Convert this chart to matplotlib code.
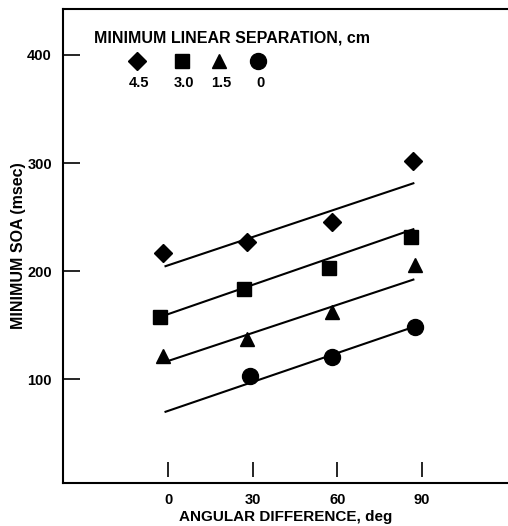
import matplotlib.pyplot as plt
from matplotlib.transforms import blended_transform_factory

plt.rcParams['font.family'] = ['Liberation Sans', 'DejaVu Sans']
plt.rcParams['font.weight'] = 'bold'

# separation groups (cm) and their markers
separations = ['4.5', '3.0', '1.5', '0']
markers = ['D', 's', '^', 'o']
marker_sizes = [9, 9.5, 10, 11.5]

angle_x = [[-2, 28, 58, 87],
           [-3, 27, 57, 86],
           [-2, 28, 58, 87.5],
           [29, 58, 87.5]]
soa_y = [[216.6, 226.8, 245.3, 301.6],
         [157.5, 183.4, 202.8, 231.4],
         [121.5, 137.2, 162.1, 205.6],
         [103, 120.6, 148.3]]

# fitted lines (start/end)
fit_x = [-1, 87]
fit_y = [[204.6, 281.3],
         [159.4, 238.8],
         [116.1, 192.2],
         [69.9, 148.3]]

x_ticks = [0, 30, 60, 90]
y_ticks = [100, 200, 300, 400]

fig = plt.figure(figsize=(5.08, 5.26), dpi=100)
ax = fig.add_axes([63 / 508, (526 - 483) / 526, 445 / 508, (483 - 8.5) / 526])

for xs, ys, fy, m, ms in zip(angle_x, soa_y, fit_y, markers, marker_sizes):
    ax.plot(fit_x, fy, color='black', lw=1.5)
    ax.plot(xs, ys, linestyle='none', marker=m, ms=ms, color='black')

ax.set_xlim(-37.4, 120.6)
ax.set_ylim(4, 443)

ax.spines['right'].set_visible(False)
for s in ['left', 'bottom', 'top']:
    ax.spines[s].set_linewidth(1.5)

ax.set_yticks(y_ticks)
ax.tick_params(axis='y', direction='in', length=12, width=1.2, pad=8, labelsize=10.5)
ax.set_xticks(x_ticks)
ax.tick_params(axis='x', length=0, pad=7, labelsize=10.5)

# x tick marks sit a bit above the bottom spine
trans = blended_transform_factory(ax.transData, ax.transAxes)
ax.vlines(x_ticks, 0.013, 0.044, transform=trans, color='black', lw=1.2)

ax.set_xlabel('ANGULAR DIFFERENCE, deg', fontsize=11, fontweight='bold', labelpad=2)
ax.set_ylabel('MINIMUM SOA (msec)', fontsize=11.5, fontweight='bold', labelpad=1)

# legend block
ax.text(0.07, 0.938, 'MINIMUM LINEAR SEPARATION, cm', transform=ax.transAxes,
        fontsize=11.5, fontweight='bold', va='center', ha='left')
leg_x = [0.166, 0.267, 0.351, 0.439]
for lx, lab, m, ms in zip(leg_x, separations, markers, marker_sizes):
    ax.plot([lx], [0.89], marker=m, ms=ms, color='black', transform=ax.transAxes,
            clip_on=False)
    ax.text(lx + 0.004, 0.843, lab, transform=ax.transAxes, fontsize=10.5,
            fontweight='bold', ha='center', va='center')

fig.savefig('out.png', dpi=100)
